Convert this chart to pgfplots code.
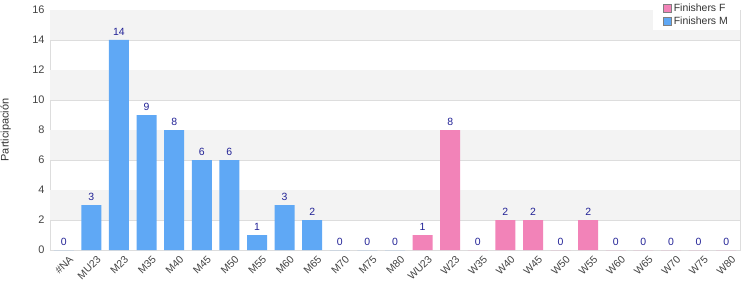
\documentclass[border=0pt]{standalone}
\usepackage{pgfplots}
\pgfplotsset{compat=1.18}
\usepackage{fontspec}
\setmainfont{Liberation Sans}
\definecolor{barM}{RGB}{95,168,245}
\definecolor{barF}{RGB}{242,131,184}
\definecolor{lblnavy}{RGB}{34,34,150}
\definecolor{band}{RGB}{243,243,243}
\definecolor{gridc}{RGB}{221,221,221}
\definecolor{tickc}{RGB}{68,68,68}
\begin{document}
\begin{tikzpicture}[x=1bp,y=1bp]
\useasboundingbox (-50bp,-50bp) rectangle (700bp,250bp);
\begin{axis}[
  scale only axis,
  width=690bp, height=240bp,
  xmin=-0.5, xmax=24.5, ymin=0, ymax=16,
  ytick={0,2,...,16},
  xtick={0,...,24},
  xticklabels={\#NA,MU23,M23,M35,M40,M45,M50,M55,M60,M65,M70,M75,M80,WU23,W23,W35,W40,W45,W50,W55,W60,W65,W70,W75,W80},
  x tick label style={rotate=45, anchor=north east, font=\fontsize{10.5}{11}\selectfont, text=tickc, inner sep=1pt, yshift=-6bp, xshift=1bp},
  y tick label style={font=\fontsize{11}{12}\selectfont, text=tickc, xshift=-2bp},
  /pgf/number format/assume math mode=true,
  major tick length=0pt,
  ymajorgrids, grid style={gridc, line width=0.8pt},
  axis line style={gridc, line width=0.8pt},
  ylabel={Participación},
  ylabel style={font=\fontsize{11}{12}\selectfont, text=black!80, at={(axis description cs:-0.064,0.5)}, anchor=center},
  ybar, bar width=20bp, bar shift=0pt,
  nodes near coords,
  every node near coord/.append style={font=\fontsize{10.5}{11}\selectfont, text=lblnavy, yshift=1bp},
  legend style={at={(1,1)}, anchor=north east, yshift=10bp, draw=none, fill=white, font=\fontsize{10.5}{11}\selectfont, text=black!80, row sep=0pt, inner xsep=10pt, inner ysep=2pt, cells={anchor=west}},
  legend image code/.code={\draw[#1, draw=gray, line width=0.6pt] (0bp,-4bp) rectangle (8bp,4bp);},
  clip=false,
]
\fill[band] (axis cs:-0.5,2) rectangle (axis cs:24.5,4);
\fill[band] (axis cs:-0.5,6) rectangle (axis cs:24.5,8);
\fill[band] (axis cs:-0.5,10) rectangle (axis cs:24.5,12);
\fill[band] (axis cs:-0.5,14) rectangle (axis cs:24.5,16);
\addplot[fill=barF, draw=none] coordinates {(13,1) (14,8) (15,0) (16,2) (17,2) (18,0) (19,2) (20,0) (21,0) (22,0) (23,0) (24,0)};
\addlegendentry{Finishers F}
\addplot[fill=barM, draw=none] coordinates {(0,0) (1,3) (2,14) (3,9) (4,8) (5,6) (6,6) (7,1) (8,3) (9,2) (10,0) (11,0) (12,0)};
\addlegendentry{Finishers M}
\end{axis}
\end{tikzpicture}
\end{document}
